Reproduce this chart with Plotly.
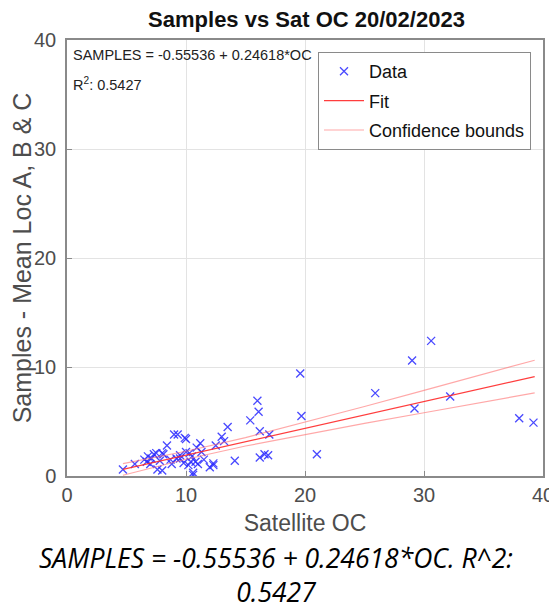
import plotly.graph_objects as go

# ---- data ----
sat_oc = [19.6, 19.7, 21.0, 25.9, 29.0, 29.2, 30.6, 32.2, 38.0, 39.2,
          16.0, 16.1, 15.4, 16.2, 17.0, 13.5, 13.0, 13.2, 12.5, 14.1,
          16.2, 16.6, 16.9, 12.3, 12.0, 11.2, 11.3, 10.0, 10.6,
          4.7, 5.7, 6.5, 6.8, 6.7, 7.0, 7.3, 7.1, 7.6, 8.0,
          8.1, 8.4, 8.8, 9.0, 9.3, 8.7, 9.5, 9.9, 10.0, 10.3,
          10.5, 10.4, 10.8, 11.0, 10.6, 11.5, 9.2, 7.8, 9.5, 10.2,
          10.9, 9.8, 7.5, 8.0, 12.3]
samples = [9.4, 5.5, 2.0, 7.6, 10.6, 6.2, 12.4, 7.3, 5.3, 4.9,
           6.9, 5.9, 5.1, 4.1, 3.8, 4.5, 3.6, 3.2, 2.8, 1.4,
           1.7, 2.0, 1.9, 1.0, 0.8, 3.0, 2.2, 3.4, 0.1,
           0.6, 1.1, 1.5, 1.8, 1.3, 1.1, 2.0, 1.6, 0.6, 0.5,
           2.0, 2.8, 1.1, 3.8, 3.8, 1.5, 1.6, 3.5, 2.2, 2.1,
           1.8, 1.3, 1.3, 1.1, 0.3, 1.5, 1.6, 1.4, 1.9, 1.0,
           2.6, 1.2, 2.1, 2.1, 1.16]

intercept = -0.55536
slope = 0.24618
r_squared = 0.5427

bound_x = [4.7, 10, 15, 20, 25, 30, 35, 39.3]
bound_upper = [1.13, 2.27, 3.52, 4.92, 6.38, 7.86, 9.34, 10.62]
bound_lower = [0.07, 1.54, 2.75, 3.81, 4.82, 5.80, 6.78, 7.62]

x_ticks = [0, 10, 20, 30, 40]
y_ticks = [0, 10, 20, 30, 40]

fit_x = [bound_x[0], bound_x[-1]]
fit_y = [intercept + slope * v for v in fit_x]

AX = "#4d4d4d"
FONT = "Liberation Sans, Arial, sans-serif"

# page body has an 8px margin; figure is sized so the plot lands where the reference has it
OFF = 8
W, H = 557 - OFF, 609 - OFF
PL, PR, PT, PB = 67, 543, 40, 476  # plot area in page pixels

fig = go.Figure()
fig.add_trace(go.Scatter(
    x=sat_oc, y=samples, mode="markers", name="Data", legendgroup="a",
    marker=dict(symbol="x-thin", size=8, line=dict(width=1.3, color="rgba(40,40,255,0.85)"),
                color="rgba(40,40,255,0.85)")))
fig.add_trace(go.Scatter(
    x=fit_x, y=fit_y, mode="lines", name="Fit", legendgroup="b",
    line=dict(color="rgba(255,40,40,0.9)", width=1.2)))
fig.add_trace(go.Scatter(
    x=bound_x, y=bound_upper, mode="lines", name="Confidence bounds", legendgroup="c",
    line=dict(color="rgba(255,110,110,0.6)", width=1.2)))
fig.add_trace(go.Scatter(
    x=bound_x, y=bound_lower, mode="lines", name="Confidence bounds", showlegend=False,
    legendgroup="c",
    line=dict(color="rgba(255,110,110,0.6)", width=1.2)))

axis_common = dict(
    showgrid=True, gridcolor="#e3e3e3", gridwidth=1,
    showline=True, linecolor="#8a8a8a", linewidth=1.5, mirror=True,
    ticks="inside", ticklen=5, tickcolor="#8a8a8a",
    zeroline=False, automargin=False,
    tickfont=dict(family=FONT, size=20, color=AX),
)

fig.update_layout(
    width=W, height=H,
    margin=dict(l=PL - OFF, r=(W + OFF) - PR, t=PT - OFF, b=(H + OFF) - PB, autoexpand=False),
    paper_bgcolor="white", plot_bgcolor="white",
    title=dict(text="<b>Samples vs Sat OC 20/02/2023</b>",
               x=((146 + 467) / 2 - OFF) / W, xanchor="center", y=1 - (19 - OFF) / H, yanchor="middle",
               font=dict(family=FONT, size=22, color="#111111")),
    xaxis=dict(range=[0, 40], tickvals=x_ticks,
               title=dict(text="Satellite OC", font=dict(family=FONT, size=23, color=AX), standoff=10),
               **axis_common),
    yaxis=dict(range=[0, 40], tickvals=y_ticks, ticklabelstandoff=5,
               title=dict(text="Samples - Mean Loc A, B & C", font=dict(family=FONT, size=25, color=AX),
                          standoff=0),
               **axis_common),
    legend=dict(x=(318 - PL) / (PR - PL), y=1 - (52 - PT) / (PB - PT), xanchor="left", yanchor="top",
                bgcolor="white", bordercolor="#8a8a8a", borderwidth=1,
                font=dict(family=FONT, size=18, color="#111111"),
                itemwidth=40, tracegroupgap=3, traceorder="grouped"),
    showlegend=True,
)

fig.add_annotation(
    xref="paper", yref="paper", x=(71 - PL) / (PR - PL), y=1 - (55 - PT) / (PB - PT),
    xanchor="left", yanchor="middle",
    text=f"SAMPLES = {intercept} + {slope}*OC",
    showarrow=False, align="left",
    font=dict(family=FONT, size=14.5, color="#222222"))
fig.add_annotation(
    xref="paper", yref="paper", x=(71 - PL) / (PR - PL), y=1 - (84 - PT) / (PB - PT),
    xanchor="left", yanchor="middle",
    text=f"R<sup>2</sup>: {r_squared}",
    showarrow=False, align="left",
    font=dict(family=FONT, size=14.5, color="#222222"))

fig.add_annotation(
    xref="paper", yref="paper", x=(276 - PL) / (PR - PL), y=-(538 - PB) / (PB - PT),
    xanchor="center", yanchor="top",
    text=f"<i>SAMPLES = {intercept} + {slope}*OC. R^2:<br>{r_squared}</i>",
    showarrow=False, align="center",
    font=dict(family="Open Sans, sans-serif", size=26.5, color="black"))

fig.write_html("out.html")
